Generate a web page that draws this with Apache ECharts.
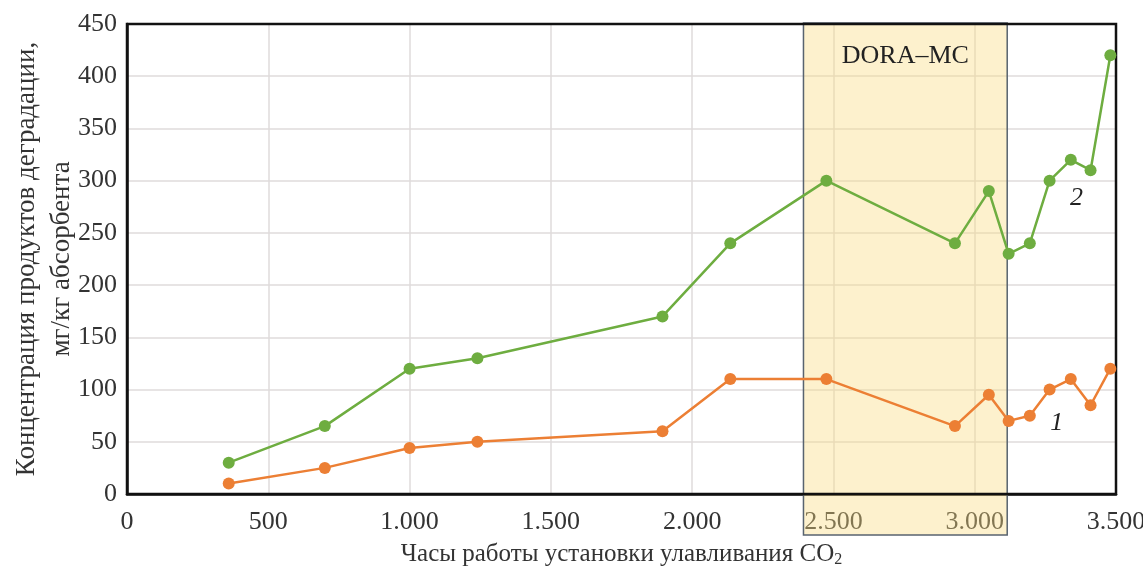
<!DOCTYPE html>
<html>
<head>
<meta charset="utf-8">
<script src="https://cdn.jsdelivr.net/npm/echarts@6/dist/echarts.min.js"></script>
<style>html,body{margin:0;padding:0;background:#fff;}#c{width:1143px;height:570px;}</style>
</head>
<body>
<div id="c"></div>
<script>
// Hours of operation (x) shared by both series
const hours = [360, 700, 1000, 1240, 1895, 2135, 2475, 2930, 3050, 3120, 3195, 3265, 3340, 3410, 3480];
// Series 1 (orange) and 2 (green): mg/kg absorbent
const series1 = [10, 25, 44, 50, 60, 110, 110, 65, 95, 70, 75, 100, 110, 85, 120];
const series2 = [30, 65, 120, 130, 170, 240, 300, 240, 290, 230, 240, 300, 320, 310, 420];
// DORA–MC region in x units
const doraRange = [2394, 3115];
const doraLabel = 'DORA–MC';
// Series number labels: [x, y, text]
const seriesTags = [[3290, 69, '1'], [3360, 284, '2']];
const xTicks = [0, 500, 1000, 1500, 2000, 2500, 3000, 3500];
const yTicks = [0, 50, 100, 150, 200, 250, 300, 350, 400, 450];

const FONT = 'Liberation Serif';
const chart = echarts.init(document.getElementById('c'));
const fmtX = v => v >= 1000 ? String(v).replace(/(\d)(\d{3})$/, '$1.$2') : String(v);

const option = {
  animation: false,
  backgroundColor: '#fff',
  grid: { left: 127, right: 27, top: 24, bottom: 76, outerBoundsMode: 'none', containLabel: false, show: false },
  xAxis: {
    type: 'value', min: xTicks[0], max: xTicks[xTicks.length - 1], interval: 500,
    axisLine: { show: true, lineStyle: { color: '#111', width: 2.5 } },
    axisTick: { show: false },
    splitLine: { show: true, showMinLine: false, showMaxLine: false, lineStyle: { color: '#dfdbdb', width: 1.5 } },
    axisLabel: { fontFamily: FONT, fontSize: 26, color: '#333', margin: 15, formatter: fmtX, showMaxLabel: true },
    name: 'Часы работы установки улавливания CO{sub|2}',
    nameLocation: 'middle', nameGap: 46, nameMoveOverlap: false,
    nameTextStyle: { fontFamily: FONT, fontSize: 25, color: '#333', rich: { sub: { fontFamily: FONT, fontSize: 16, verticalAlign: 'bottom', padding: [12, 0, 0, 0], color: '#333' } } }
  },
  yAxis: {
    type: 'value', min: yTicks[0], max: yTicks[yTicks.length - 1], interval: 50,
    axisLine: { show: true, lineStyle: { color: '#111', width: 2.5 } },
    axisTick: { show: false },
    splitLine: { show: true, showMinLine: false, showMaxLine: false, lineStyle: { color: '#dfdbdb', width: 1.5 } },
    axisLabel: { fontFamily: FONT, fontSize: 26, color: '#333', margin: 10 },
    name: 'Концентрация продуктов деградации,\nмг/кг абсорбента',
    nameLocation: 'middle', nameGap: 48, nameRotate: 90, nameMoveOverlap: false,
    nameTextStyle: { fontFamily: FONT, fontSize: 27, color: '#333', lineHeight: 35, align: 'center' }
  },
  series: [
    {
      name: '1', type: 'line', data: hours.map((h, i) => [h, series1[i]]),
      symbol: 'circle', symbolSize: 12, z: 5,
      lineStyle: { color: '#EC7F34', width: 2.5 }, itemStyle: { color: '#EC7F34' }
    },
    {
      name: '2', type: 'line', data: hours.map((h, i) => [h, series2[i]]),
      symbol: 'circle', symbolSize: 12, z: 5,
      lineStyle: { color: '#6EAD40', width: 2.5 }, itemStyle: { color: '#6EAD40' }
    }
  ]
};
chart.setOption(option);

const pTL = chart.convertToPixel({ gridIndex: 0 }, [doraRange[0], yTicks[yTicks.length - 1]]);
const pBR = chart.convertToPixel({ gridIndex: 0 }, [doraRange[1], yTicks[0]]);
const g0 = chart.convertToPixel({ gridIndex: 0 }, [xTicks[0], yTicks[yTicks.length - 1]]);
const g1 = chart.convertToPixel({ gridIndex: 0 }, [xTicks[xTicks.length - 1], yTicks[0]]);
const elements = [
  {
    type: 'rect', z: 1,
    shape: { x: pTL[0], y: pTL[1] - 1, width: pBR[0] - pTL[0], height: pBR[1] - pTL[1] + 42 },
    style: { fill: 'rgba(250,220,130,0.4)', stroke: '#58636f', lineWidth: 1.5 }
  },
  {
    type: 'rect', z: 4, silent: true,
    shape: { x: g0[0], y: g0[1], width: g1[0] - g0[0], height: g1[1] - g0[1] },
    style: { fill: 'none', stroke: '#111', lineWidth: 2.5 }
  },
  {
    type: 'text', z: 6,
    x: (pTL[0] + pBR[0]) / 2, y: pTL[1] + 32,
    style: { text: doraLabel, font: '26px "' + FONT + '"', fill: '#222', align: 'center', verticalAlign: 'middle' }
  }
];
seriesTags.forEach(t => {
  const p = chart.convertToPixel({ gridIndex: 0 }, [t[0], t[1]]);
  elements.push({
    type: 'text', z: 6, x: p[0], y: p[1] + 1,
    style: { text: t[2], font: 'italic 26px "' + FONT + '"', fill: '#222', align: 'center', verticalAlign: 'middle' }
  });
});
chart.setOption({ graphic: { elements } });
</script>
</body>
</html>
